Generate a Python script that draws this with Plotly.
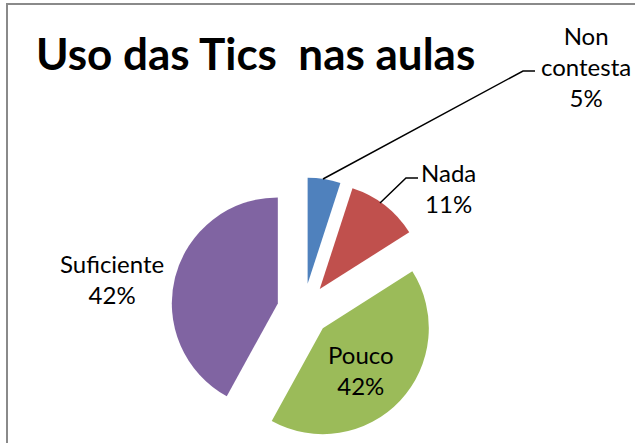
import plotly.graph_objects as go

# Data
categories = ["Non contesta", "Nada", "Pouco", "Suficiente"]
values = [5, 11, 42, 42]
label_text = ["Non<br>contesta", "Nada", "Pouco", "Suficiente"]
colors = ["#4F81BD", "#C0504D", "#9BBB59", "#8064A2"]
title_text = "Uso das Tics\u00a0 nas aulas"

W, H = 635, 443


def px(x):
    return x / W


def py(y):
    return 1 - y / H


total = sum(values)
pcts = [round(v / total * 100) for v in values]

fig = go.Figure(go.Pie(
    labels=categories,
    values=values,
    sort=False,
    direction="clockwise",
    rotation=0,
    pull=[0.25, 0.25, 0.25, 0.25],
    marker=dict(colors=colors, line=dict(width=0)),
    textinfo="none",
    hoverinfo="label+percent",
    showlegend=False,
    domain=dict(x=[px(171), px(436)], y=[py(442.5), py(177.5)]),
))

label_pos = [(586, 66), (448, 188), (361, 370), (112, 279)]
annotations = []
for txt, p, (x, y) in zip(label_text, pcts, label_pos):
    annotations.append(dict(
        x=px(x), y=py(y), xref="paper", yref="paper",
        text=f"{txt}<br>{p}%", showarrow=False,
        xanchor="center", yanchor="middle", align="center",
        font=dict(family="Lato", size=24, color="#000000"),
    ))
annotations.append(dict(
    x=px(34), y=py(53), xref="paper", yref="paper",
    text=f"<b>{title_text}</b>", showarrow=False,
    xanchor="left", yanchor="middle",
    font=dict(family="Lato", size=44, color="#000000"),
))


def path(points):
    s = "M " + " L ".join(f"{px(a)},{py(b)}" for a, b in points)
    return s


shapes = [
    dict(type="path", xref="paper", yref="paper",
         path=path([(7, 445), (7, 4), (637, 4)]),
         line=dict(color="#8a8a8a", width=2)),
    dict(type="path", xref="paper", yref="paper",
         path=path([(535, 71), (523, 71), (323, 179)]),
         line=dict(color="#000000", width=1.5)),
    dict(type="path", xref="paper", yref="paper",
         path=path([(418, 178), (406, 178), (380, 203)]),
         line=dict(color="#000000", width=1.5)),
]

fig.update_layout(
    width=W, height=H,
    margin=dict(l=0, r=0, t=0, b=0),
    paper_bgcolor="white",
    plot_bgcolor="white",
    annotations=annotations,
    shapes=shapes,
    showlegend=False,
)

fig.write_html(
    "out.html",
    config={"displayModeBar": False},
    post_script="document.body.style.margin='0px';document.body.style.overflow='hidden';",
)
